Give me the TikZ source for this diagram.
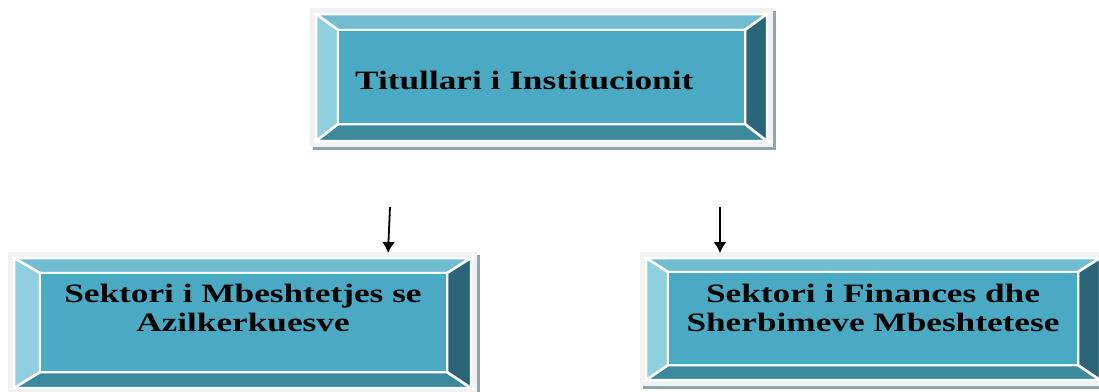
\documentclass[tikz,border=0pt]{standalone}
\usepackage{fontspec}
\newfontfamily\boxfont{Liberation Serif}[FakeStretch=1.33]
\usetikzlibrary{arrows.meta}
\definecolor{framegrey}{HTML}{F2F2F2}
\definecolor{bevtop}{HTML}{72BCD1}
\definecolor{bevleft}{HTML}{90CFE0}
\definecolor{bevright}{HTML}{2C6577}
\definecolor{bevbottom}{HTML}{3C899D}
\definecolor{facecol}{HTML}{4AAAC4}
\definecolor{shadowcol}{HTML}{8FA4AE}
\tikzset{
  facet/.style={draw=white, line width=2.5pt, line join=miter},
  boxtext/.style={font=\boxfont\bfseries\fontsize{26.5pt}{29pt}\selectfont, text=black, inner sep=0pt, align=center},
  arr/.style={line width=1.8pt, -{Latex[length=11pt,width=13pt]}},
}
% #1 name, #2-#5 frame x1,y1,x2,y2, #6-#9 face x1,y1,x2,y2
\newcommand\bevelbox[9]{%
  \fill[shadowcol] ({#2+3},{#3+3}) rectangle ({#4+3},{#5+3});
  \node[fill=framegrey, inner sep=0pt, outer sep=0pt, minimum width={(#4-#2)*1pt}, minimum height={(#5-#3)*1pt}] (#1) at ({(#2+#4)/2},{(#3+#5)/2}) {};
  \path[facet, fill=bevtop] ({#2+6},{#3+6}) -- ({#4-6},{#3+6}) -- (#8,#7) -- (#6,#7) -- cycle;
  \path[facet, fill=bevbottom] ({#2+6},{#5-6}) -- ({#4-6},{#5-6}) -- (#8,#9) -- (#6,#9) -- cycle;
  \path[facet, fill=bevleft] ({#2+6},{#3+6}) -- (#6,#7) -- (#6,#9) -- ({#2+6},{#5-6}) -- cycle;
  \path[facet, fill=bevright] ({#4-6},{#3+6}) -- (#8,#7) -- (#8,#9) -- ({#4-6},{#5-6}) -- cycle;
  \path[facet, fill=facecol] (#6,#7) rectangle (#8,#9);
}
\begin{document}
\begin{tikzpicture}[x=1pt,y=-1pt]
\useasboundingbox (0,0) rectangle (1099,391);
\begin{scope}
\clip (0,0) rectangle (1099,391);
\bevelbox{top}{310}{8}{773}{147}{338}{30}{745}{124}
\bevelbox{left}{8}{252}{477}{394}{40}{273}{447}{372}
\bevelbox{right}{640}{252}{1106}{386}{668}{272}{1078}{365}
\end{scope}
\node[boxtext, anchor=base west] (ttop) at (355,89) {Titullari i Institucionit};
\node[boxtext, anchor=north] (tleft) at (243,284) {Sektori i Mbeshtetjes se\\Azilkerkuesve};
\node[boxtext, anchor=north] (tright) at (873,284) {Sektori i Finances dhe\\Sherbimeve Mbeshtetese};
\coordinate (sL) at (390,207);
\coordinate (eL) at (388,253);
\coordinate (sR) at (720,207);
\coordinate (eR) at (720,253);
\draw[arr] (sL) -- (eL);
\draw[arr] (sR) -- (eR);
\end{tikzpicture}
\end{document}
